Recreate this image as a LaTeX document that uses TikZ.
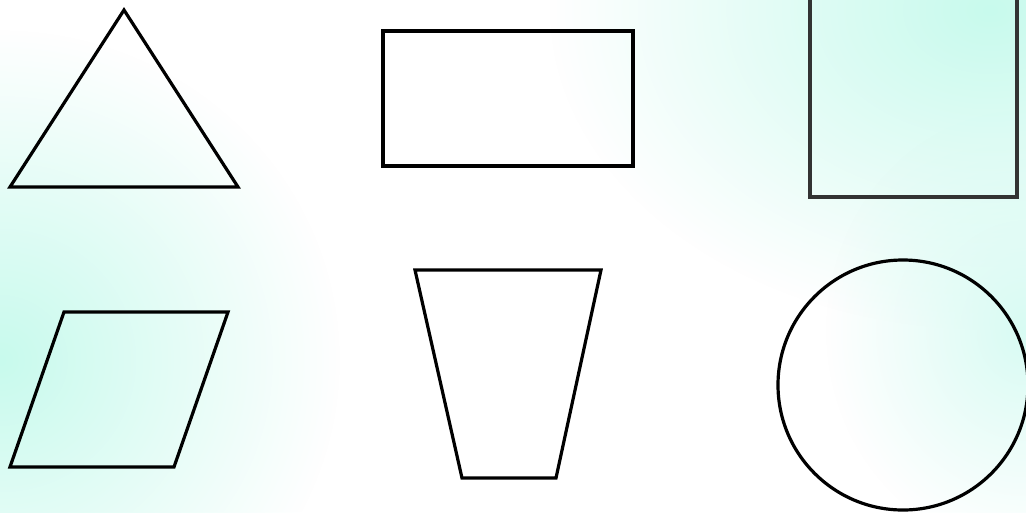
\documentclass[tikz,border=0pt]{standalone}
\usetikzlibrary{fadings}
\definecolor{mint}{RGB}{200,250,237}
\tikzfading[name=glow, inner color=transparent!0, outer color=transparent!100]
\begin{document}
\begin{tikzpicture}[x=1pt, y=-1pt, line join=miter]
    % 背景
    \fill[white] (0,0) rectangle (1026,512);
    \useasboundingbox (0,0) rectangle (1026,512);
    \begin{scope}
      \clip (0,0) rectangle (1026,512);
      \fill[mint, path fading=glow] (990,10) ellipse (440 and 320);
      \fill[mint, path fading=glow] (0,360) ellipse (340 and 330);
      \fill[mint!70, path fading=glow] (1026,330) ellipse (200 and 220);
    \end{scope}

    % 三角形
    \draw[black, line width=3.2pt] (124,10) -- (238,187) -- (10,187) -- cycle;

    % 长方形
    \draw[black, line width=3.2pt] (383,31) rectangle (633,166);

    % 正方形 (上边在图外)
    \draw[black!80, line width=3.2pt] (810,-10) rectangle (1017,197);

    % 平行四边形
    \draw[black, line width=3.2pt] (64,312) -- (228,312) -- (174,467) -- (10,467) -- cycle;

    % 梯形
    \draw[black, line width=3.2pt] (415,270) -- (601,270) -- (556,478) -- (462,478) -- cycle;

    % 圆
    \draw[black, line width=3.2pt] (903,385) circle (125);
  \end{tikzpicture}
\end{document}
